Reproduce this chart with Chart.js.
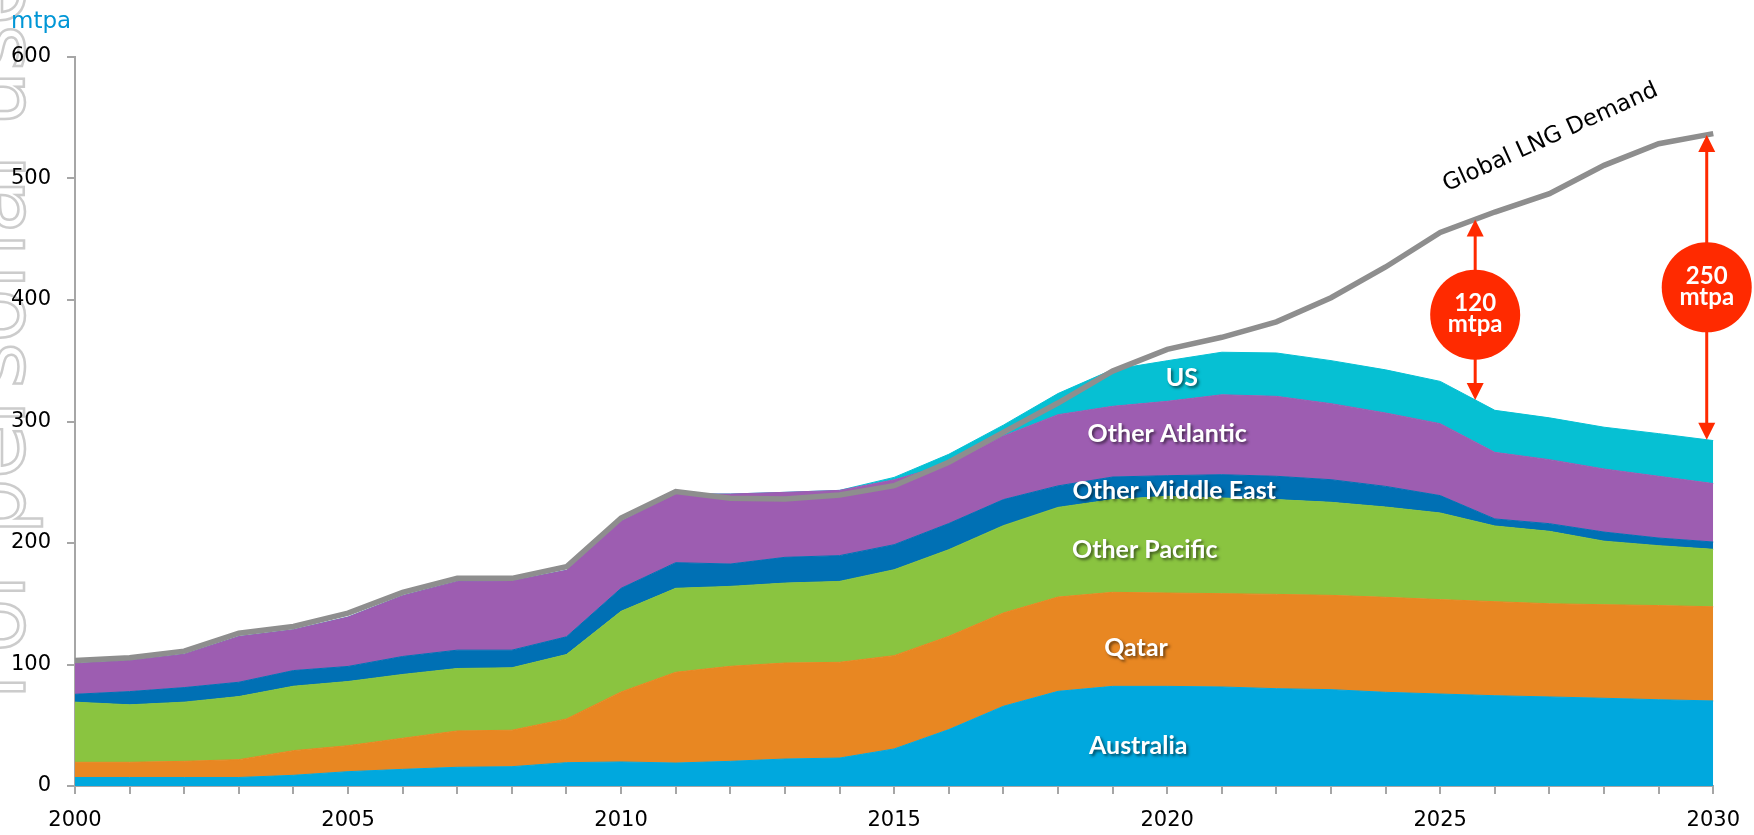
<!DOCTYPE html>
<html>
<head>
<meta charset="utf-8">
<script src="https://cdn.jsdelivr.net/npm/chart.js@4.4.1/dist/chart.umd.min.js"></script>
<style>
  html, body { margin: 0; padding: 0; background: #ffffff; }
  #wrap { width: 1754px; height: 835px; position: relative; }
  canvas { display: block; }
</style>
</head>
<body>
<div id="wrap"><canvas id="c" width="1754" height="835"></canvas></div>
<script>
// ---------- DATA ----------
const years = [2000,2001,2002,2003,2004,2005,2006,2007,2008,2009,2010,2011,2012,2013,2014,2015,
               2016,2017,2018,2019,2020,2021,2022,2023,2024,2025,2026,2027,2028,2029,2030];

const australia = [7,7,7,7,8.8,11.8,13.7,15.4,15.9,19.2,19.8,18.9,20.3,22.2,23,30.5,
                   46.4,65.6,77.9,82,82,81.5,80.1,79.3,77.1,75.7,74.3,73.3,72.2,71,70];
const qatar = [12.5,12.5,13.3,14.7,20.3,21.4,25.6,29.9,30,36,57.6,74.7,78.2,79,78.8,76.8,
               76.8,76.8,77.6,77.4,76.8,76.8,77.6,77.6,78.2,77.7,77.4,76.7,77,77.5,77.5];
const otherPacific = [49.5,47.3,48.7,51.9,53,52.8,52.5,51.4,51.4,53,66.4,69.1,65.8,65.8,66.6,70.7,
                      71.3,71.9,73.8,76.3,79.6,78.7,78,76.6,74.3,71.3,62.3,59.6,52.3,49.3,47.3];
const otherMiddleEast = [6.5,10.9,12,11.8,12.9,12.4,14.8,15.1,14.5,14.6,18.9,21.1,18.4,21.2,21.2,20.6,
                         21.5,21.4,17.7,18.6,17,19.2,19.2,18.6,17,14.3,5.8,6.3,7.5,6.3,6];
const otherAtlantic = [25.3,25.6,27.5,37.6,33.6,40.6,50,56.6,56.9,54.7,55.1,56.5,57.6,53.5,53.7,53.4,
                       49,52.3,58.6,58.2,61.2,65.8,65.8,62.6,60.4,59.2,54.8,52.7,51.9,50.8,48.1];
const us = [0,0,0,0,0,0,0,0,0,0,0,0,0,0,0,2,
            8,9,17.4,30.2,33.4,35,35.7,35.4,35.5,34.8,34.6,34.4,34.4,35.1,35.4];
const globalDemand = [103.3,105.5,111,125.8,131.3,142.3,159.3,170.9,170.9,180.5,220.6,242.3,236.8,236.2,239.5,247.2,
                      266.5,291,315.2,341.5,359.4,369.3,382,401.9,427.2,455.6,472.4,487.5,510.8,528.6,536.9];

const seriesNames = ['Australia','Qatar','Other Pacific','Other Middle East','Other Atlantic','US'];
const yTicks = [0,100,200,300,400,500,600];
const unitLabel = 'mtpa';
const demandLabel = 'Global LNG Demand';
// label anchors in data units: [year index, value]
const areaLabelAnchors = [[19.47,32.6],[19.43,113.8],[19.59,194.5],[20.13,243],[20.0,290],[20.27,336]];
const demandLabelAnchor = [27.02, 533.6];
// gap annotations: year index where the arrow sits, and the text
const gapAt = [25.64, 29.88];
const gapText = [['120','mtpa'],['250','mtpa']];
const watermarkText = 'For personal use';

// ---------- STYLE ----------
const colors = ['#00a8de','#e88722','#8ac440','#0070b4','#9d5db1','#06c0d3'];
const axisColor = '#a6a6a6';
const red = '#ff2a00';

const seriesData = [australia, qatar, otherPacific, otherMiddleEast, otherAtlantic, us];
const supplyTotal = years.map((_, i) => seriesData.reduce((s, a) => s + a[i], 0));

function interp(arr, t) {
  const i = Math.floor(t), f = t - i;
  if (i >= arr.length - 1) return arr[arr.length - 1];
  return arr[i] + (arr[i + 1] - arr[i]) * f;
}

const datasets = seriesData.map((d, k) => ({
  label: seriesNames[k],
  data: d,
  backgroundColor: colors[k],
  borderColor: colors[k],
  borderWidth: 1,
  pointRadius: 0,
  fill: k === 0 ? 'origin' : '-1',
  order: 1,
  tension: 0
}));
datasets.push({
  label: demandLabel,
  data: globalDemand,
  borderColor: '#8e8e8e',
  backgroundColor: '#8e8e8e',
  borderWidth: 5.5,
  pointRadius: 0,
  fill: false,
  stack: 'demand',
  order: 0,
  tension: 0,
  borderJoinStyle: 'miter'
});

const decorPlugin = {
  id: 'decor',
  beforeDraw(chart) {
    const ctx = chart.ctx;
    ctx.save();
    ctx.fillStyle = '#ffffff';
    ctx.fillRect(0, 0, chart.width, chart.height);
    // watermark
    ctx.translate(24, 700);
    ctx.rotate(-Math.PI / 2);
    ctx.font = '88px "DejaVu Sans"';
    ctx.textAlign = 'left';
    ctx.textBaseline = 'alphabetic';
    ctx.strokeStyle = '#cccccc';
    ctx.lineWidth = 2.5;
    ctx.strokeText(watermarkText, 0, 0);
    ctx.restore();
  },
  afterDraw(chart) {
    const ctx = chart.ctx;
    const xs = chart.scales.x, ys = chart.scales.y;
    ctx.save();
    // unit label
    ctx.font = '23px "DejaVu Sans"';
    ctx.fillStyle = '#0096d6';
    ctx.textAlign = 'left';
    ctx.textBaseline = 'alphabetic';
    ctx.fillText(unitLabel, 11, 28);

    // area labels
    ctx.font = 'bold 25px Lato';
    ctx.textAlign = 'center';
    ctx.textBaseline = 'middle';
    ctx.fillStyle = '#ffffff';
    ctx.shadowColor = 'rgba(0,0,0,0.55)';
    ctx.shadowOffsetX = 2;
    ctx.shadowOffsetY = 2;
    ctx.shadowBlur = 3;
    areaLabelAnchors.forEach((a, k) => {
      ctx.fillText(seriesNames[k], xs.getPixelForValue(a[0]), ys.getPixelForValue(a[1]));
    });
    ctx.shadowColor = 'transparent';
    ctx.shadowBlur = 0; ctx.shadowOffsetX = 0; ctx.shadowOffsetY = 0;

    // demand label
    ctx.save();
    ctx.translate(xs.getPixelForValue(demandLabelAnchor[0]), ys.getPixelForValue(demandLabelAnchor[1]));
    ctx.rotate(-24.5 * Math.PI / 180);
    ctx.font = '23px "DejaVu Sans"';
    ctx.fillStyle = '#000000';
    ctx.fillText(demandLabel, 0, 0);
    ctx.restore();

    // gap arrows
    gapAt.forEach((t, k) => {
      const x = xs.getPixelForValue(t);
      const yTop = ys.getPixelForValue(interp(globalDemand, t));
      const yBot = ys.getPixelForValue(interp(supplyTotal, t));
      const hw = 8.5, hh = 17;
      ctx.strokeStyle = red;
      ctx.fillStyle = red;
      ctx.lineWidth = 3;
      ctx.beginPath();
      ctx.moveTo(x, yTop + hh - 1);
      ctx.lineTo(x, yBot - hh + 1);
      ctx.stroke();
      ctx.beginPath();
      ctx.moveTo(x, yTop); ctx.lineTo(x - hw, yTop + hh); ctx.lineTo(x + hw, yTop + hh); ctx.closePath();
      ctx.fill();
      ctx.beginPath();
      ctx.moveTo(x, yBot); ctx.lineTo(x - hw, yBot - hh); ctx.lineTo(x + hw, yBot - hh); ctx.closePath();
      ctx.fill();
      const cy = (yTop + yBot) / 2 + (k === 0 ? 5 : 0);
      ctx.beginPath();
      ctx.arc(x, cy, 45, 0, Math.PI * 2);
      ctx.fill();
      ctx.fillStyle = '#ffffff';
      ctx.font = 'bold 24px Lato';
      ctx.textAlign = 'center';
      ctx.textBaseline = 'middle';
      ctx.fillText(gapText[k][0], x, cy - 11);
      ctx.fillText(gapText[k][1], x, cy + 10);
    });
    ctx.restore();
  }
};

new Chart(document.getElementById('c'), {
  type: 'line',
  data: { labels: years.map(String), datasets },
  options: {
    responsive: false,
    devicePixelRatio: 1,
    animation: false,
    layout: { padding: { top: 57, right: 38, left: 0, bottom: 0 } },
    plugins: { legend: { display: false }, tooltip: { enabled: false } },
    scales: {
      x: {
        type: 'category',
        offset: false,
        grid: { display: true, drawOnChartArea: false, drawTicks: true, tickLength: 8, color: axisColor, lineWidth: 2 },
        border: { display: true, color: axisColor, width: 2 },
        ticks: {
          autoSkip: false, maxRotation: 0, minRotation: 0, padding: 14,
          color: '#000000', font: { family: 'DejaVu Sans', size: 21 },
          callback: (v, i) => (years[i] % 5 === 0 ? String(years[i]) : '')
        },
        afterFit: s => { s.height = 49; }
      },
      y: {
        stacked: true,
        min: 0, max: 600,
        afterBuildTicks: s => { s.ticks = yTicks.map(v => ({ value: v })); },
        grid: { display: true, drawOnChartArea: false, drawTicks: true, tickLength: 8, color: axisColor, lineWidth: 2 },
        border: { display: true, color: axisColor, width: 2 },
        ticks: { padding: 16, color: '#000000', font: { family: 'DejaVu Sans', size: 21 } },
        afterFit: s => { s.width = 75; }
      }
    }
  },
  plugins: [decorPlugin]
});
</script>
</body>
</html>
